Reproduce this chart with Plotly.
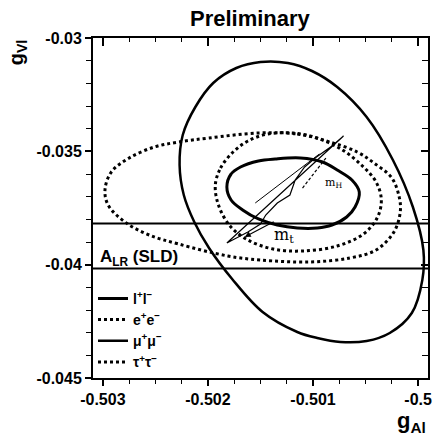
import plotly.graph_objects as go

# ---------------- data (g_Al, g_Vl) ----------------
# l+l- combined contour (small solid ellipse)
ll_ga = [-0.50182, -0.50178, -0.50169, -0.50152, -0.50136, -0.50112, -0.50091, -0.50077,
         -0.50063, -0.50056, -0.50060, -0.50068, -0.50082, -0.50096, -0.50115, -0.50134,
         -0.50152, -0.50167, -0.50178, -0.50182]
ll_gv = [-0.036574, -0.036000, -0.035691, -0.035426, -0.035338, -0.035294, -0.035471, -0.035824,
         -0.036265, -0.036794, -0.037456, -0.037897, -0.038250, -0.038382, -0.038382, -0.038250,
         -0.037985, -0.037588, -0.037147, -0.036574]

# e+e- contour (wide dotted ellipse)
ee_ga = [-0.50152, -0.50115, -0.50084, -0.50058, -0.50042, -0.50025, -0.50018, -0.50017,
         -0.50023, -0.50040, -0.50065, -0.50103, -0.50150, -0.50181, -0.50228, -0.50256,
         -0.50279, -0.50295, -0.50298, -0.50292, -0.50275, -0.50251, -0.50228, -0.50199, -0.50152]
ee_gv = [-0.034191, -0.034235, -0.034588, -0.035029, -0.035515, -0.036176, -0.037015, -0.037676,
         -0.038559, -0.039353, -0.039706, -0.039882, -0.039794, -0.039618, -0.039088, -0.038691,
         -0.038118, -0.037368, -0.036706, -0.035912, -0.035294, -0.034809, -0.034588, -0.034412, -0.034191]

# mu+mu- contour (large solid ellipse)
mumu_ga = [-0.50150, -0.50124, -0.50101, -0.50077, -0.50049, -0.50024, -0.50005, -0.49995,
           -0.49996, -0.50006, -0.50027, -0.50049, -0.50074, -0.50096, -0.50115, -0.50148,
           -0.50177, -0.50199, -0.50213, -0.50223, -0.50227, -0.50224, -0.50212, -0.50195,
           -0.50173, -0.50150]
mumu_gv = [-0.031059, -0.031103, -0.031456, -0.032162, -0.033485, -0.035382, -0.037456, -0.039353,
           -0.040676, -0.042132, -0.043014, -0.043367, -0.043411, -0.043235, -0.042970, -0.042088,
           -0.040632, -0.039265, -0.038118, -0.036926, -0.035603, -0.034279, -0.033044, -0.031985,
           -0.031324, -0.031059]

# tau+tau- contour (inner dotted ellipse)
tautau_ga = [-0.50193, -0.50188, -0.50176, -0.50162, -0.50143, -0.50119, -0.50096, -0.50072,
             -0.50054, -0.50040, -0.50035, -0.50039, -0.50052, -0.50077, -0.50110, -0.50138,
             -0.50162, -0.50179, -0.50190, -0.50193]
tautau_gv = [-0.036485, -0.035735, -0.035029, -0.034544, -0.034235, -0.034191, -0.034412, -0.034941,
             -0.035603, -0.036353, -0.037147, -0.037941, -0.038647, -0.039176, -0.039397, -0.039309,
             -0.038912, -0.038294, -0.037368, -0.036485]

# SM prediction band (m_t, m_H)
sm_ga = [-0.50182, -0.50071, -0.50082, -0.50098, -0.50108, -0.50117, -0.50122, -0.50134,
         -0.50145, -0.50150, -0.50162, -0.50182]
sm_gv = [-0.039044, -0.034324, -0.034765, -0.035294, -0.035691, -0.036265, -0.036926, -0.037279,
         -0.037809, -0.038206, -0.038559, -0.039044]
sm_inner_ga = [-0.50155, -0.50094]
sm_inner_gv = [-0.037279, -0.035118]
mt_arrow_ga = [-0.50136, -0.50165]   # tail, head
mt_arrow_gv = [-0.038073, -0.038779]
mh_line_ga = [-0.50110, -0.50087]
mh_line_gv = [-0.036618, -0.035250]
mt_label = (-0.50128, -0.038735)
mh_label = (-0.50081, -0.036397)

# A_LR (SLD) band edges
alr_gv = [-0.038184, -0.040169]

# axes
x_range = [-0.503094, -0.499906]
y_range = [-0.045, -0.030]
x_ticks = [-0.503, -0.502, -0.501, -0.500]
x_ticktext = ["-0.503", "-0.502", "-0.501", "-0.5"]
y_ticks = [-0.045, -0.040, -0.035, -0.030]
y_ticktext = ["-0.045", "-0.04", "-0.035", "-0.03"]

FONT = "Liberation Sans, Arial, Helvetica, sans-serif"

fig = go.Figure()

# A_LR lines
for v in alr_gv:
    fig.add_trace(go.Scatter(x=x_range, y=[v, v], mode="lines",
                             line=dict(color="black", width=2), showlegend=False, hoverinfo="skip"))

# SM band
fig.add_trace(go.Scatter(x=sm_ga, y=sm_gv, mode="lines", line=dict(color="black", width=1.2),
                         showlegend=False, hoverinfo="skip"))
fig.add_trace(go.Scatter(x=sm_inner_ga, y=sm_inner_gv, mode="lines", line=dict(color="black", width=1),
                         showlegend=False, hoverinfo="skip"))
fig.add_trace(go.Scatter(x=mh_line_ga, y=mh_line_gv, mode="lines",
                         line=dict(color="black", width=1.2, dash="3px,2px"),
                         showlegend=False, hoverinfo="skip"))

# contours
fig.add_trace(go.Scatter(x=ll_ga, y=ll_gv, mode="lines", name="l<sup>+</sup>l<sup>−</sup>",
                         line=dict(color="black", width=3, shape="spline", smoothing=1.0)))
fig.add_trace(go.Scatter(x=ee_ga, y=ee_gv, mode="lines", name="e<sup>+</sup>e<sup>−</sup>",
                         line=dict(color="black", width=3, dash="dot", shape="spline", smoothing=1.0)))
fig.add_trace(go.Scatter(x=mumu_ga, y=mumu_gv, mode="lines", name="μ<sup>+</sup>μ<sup>−</sup>",
                         line=dict(color="black", width=2.5, shape="spline", smoothing=1.0)))
fig.add_trace(go.Scatter(x=tautau_ga, y=tautau_gv, mode="lines", name="τ<sup>+</sup>τ<sup>−</sup>",
                         line=dict(color="black", width=3, dash="dot", shape="spline", smoothing=1.0)))

# dummy trace for the mirrored (inside-tick) top/right axes
fig.add_trace(go.Scatter(x=[x_range[0]], y=[y_range[0]], xaxis="x2", yaxis="y2", mode="markers",
                         marker=dict(opacity=0), showlegend=False, hoverinfo="skip"))

# m_t arrow
fig.add_annotation(x=mt_arrow_ga[1], y=mt_arrow_gv[1], ax=mt_arrow_ga[0], ay=mt_arrow_gv[0],
                   xref="x", yref="y", axref="x", ayref="y", showarrow=True,
                   arrowhead=2, arrowsize=1, arrowwidth=1.2, arrowcolor="black", text="")
fig.add_annotation(x=mt_label[0], y=mt_label[1], text="m<sub>t</sub>", showarrow=False,
                   xanchor="center", yanchor="middle",
                   font=dict(family="DejaVu Serif, serif", size=16, color="black"))
fig.add_annotation(x=mh_label[0], y=mh_label[1], text="m<sub>H</sub>", showarrow=False,
                   xanchor="center", yanchor="middle",
                   font=dict(family="DejaVu Serif, serif", size=11, color="black"))

# texts
fig.add_annotation(x=0.469, y=1.056, xref="paper", yref="paper", text="<b>Preliminary</b>",
                   xanchor="center", yanchor="middle",
                   showarrow=False, font=dict(family=FONT, size=22, color="black"))
fig.add_annotation(x=-0.225, y=0.957, xref="paper", yref="paper", text="<b>g<sub>Vl</sub></b>",
                   xanchor="center", yanchor="middle",
                   textangle=-90, showarrow=False, font=dict(family=FONT, size=20, color="black"))
fig.add_annotation(x=0.952, y=-0.13, xref="paper", yref="paper", text="<b>g<sub>Al</sub></b>",
                   xanchor="center", yanchor="middle",
                   showarrow=False, font=dict(family=FONT, size=22, color="black"))
fig.add_annotation(x=-0.503047, y=-0.039706, xref="x", yref="y", xanchor="left", yanchor="middle",
                   text="<b>A<sub>LR</sub> (SLD)</b>", showarrow=False,
                   font=dict(family=FONT, size=17, color="black"))

axis_common = dict(showgrid=False, zeroline=False, color="black")

fig.update_layout(
    width=437, height=435,
    margin=dict(l=93, r=5, t=38, b=57),
    paper_bgcolor="white", plot_bgcolor="white",
    font=dict(family=FONT, color="black"),
    showlegend=True,
    legend=dict(x=0.0, y=0.28, xanchor="left", yanchor="top", bgcolor="rgba(0,0,0,0)",
                font=dict(family=FONT, size=14, color="black", weight="bold"),
                tracegroupgap=0, itemwidth=30),
    xaxis=dict(range=x_range, tickmode="array", tickvals=x_ticks,
               ticktext=["<b>%s</b>" % t for t in x_ticktext],
               ticks="outside", ticklen=6, tickwidth=1.5, tickcolor="black",
               minor=dict(dtick=0.00025, tick0=-0.503, ticks="outside", ticklen=4,
                          tickwidth=1.2, tickcolor="black"),
               showline=True, linewidth=2, linecolor="black", mirror=True,
               tickfont=dict(family=FONT, size=16, color="black"),
               **axis_common),
    yaxis=dict(range=y_range, tickmode="array", tickvals=y_ticks,
               ticktext=["<b>%s</b>" % t for t in y_ticktext],
               ticks="outside", ticklen=6, tickwidth=1.5, tickcolor="black",
               minor=dict(dtick=0.001, tick0=-0.045, ticks="outside", ticklen=5,
                          tickwidth=1.2, tickcolor="black"),
               showline=True, linewidth=2, linecolor="black", mirror=True,
               tickfont=dict(family=FONT, size=16, color="black"),
               **axis_common),
    xaxis2=dict(range=x_range, overlaying="x", side="top", anchor="y2",
                tickmode="array", tickvals=x_ticks, ticks="inside", ticklen=8, tickwidth=1.5,
                tickcolor="black", showticklabels=False,
                minor=dict(dtick=0.00025, tick0=-0.503, ticks="inside", ticklen=4,
                           tickwidth=1.2, tickcolor="black"),
                showline=False, **axis_common),
    yaxis2=dict(range=y_range, overlaying="y", side="right", anchor="x2",
                tickmode="array", tickvals=y_ticks, ticks="inside", ticklen=7, tickwidth=1.5,
                tickcolor="black", showticklabels=False,
                minor=dict(dtick=0.001, tick0=-0.045, ticks="inside", ticklen=6,
                           tickwidth=1.2, tickcolor="black"),
                showline=False, **axis_common),
)

fig.write_html("out.html")
